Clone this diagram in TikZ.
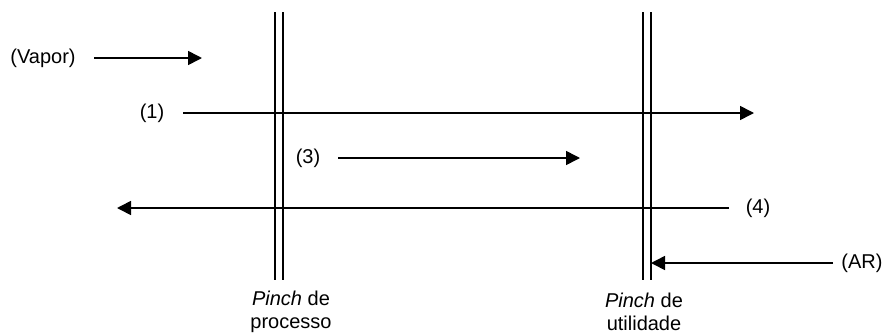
\documentclass[tikz,border=0pt]{standalone}
\usepackage{fontspec}
\setmainfont{Liberation Sans}
\usetikzlibrary{arrows.meta}
\begin{document}
\begin{tikzpicture}[x=1pt,y=-1pt,
  every node/.style={font=\fontsize{20}{23}\selectfont, inner sep=0pt},
  stream/.style={line width=1.6pt, -{Triangle[length=14pt,width=14pt]}},
  pinchline/.style={line width=1.5pt},
  lbl/.style={align=center}]
\useasboundingbox (0,0) rectangle (891,335);

% pinch lines (double vertical lines)
\coordinate (pa1t) at (275,12);  \coordinate (pa1b) at (275,280);
\coordinate (pa2t) at (283,12);  \coordinate (pa2b) at (283,280);
\coordinate (pu1t) at (643,12);  \coordinate (pu1b) at (643,280);
\coordinate (pu2t) at (651,12);  \coordinate (pu2b) at (651,280);
\draw[pinchline] (pa1t) -- (pa1b);
\draw[pinchline] (pa2t) -- (pa2b);
\draw[pinchline] (pu1t) -- (pu1b);
\draw[pinchline] (pu2t) -- (pu2b);

% stream labels
\node (vapor) at (43,58) {(Vapor)};
\node (s1) at (152,113) {(1)};
\node (s3) at (308,158) {(3)};
\node (s4) at (758,208) {(4)};
\node (ar) at (862,263) {(AR)};

% stream arrows
\coordinate (v0) at (94,58);   \coordinate (v1) at (202,58);
\coordinate (a0) at (183,113); \coordinate (a1) at (754,113);
\coordinate (c0) at (338,158); \coordinate (c1) at (580,158);
\coordinate (d0) at (729,208); \coordinate (d1) at (117,208);
\coordinate (r0) at (833,263); \coordinate (r1) at (651,263);
\draw[stream] (v0) -- (v1);
\draw[stream] (a0) -- (a1);
\draw[stream] (c0) -- (c1);
\draw[stream] (d0) -- (d1);
\draw[stream] (r0) -- (r1);

% pinch captions
\node[lbl] (pproc) at (291,312) {\textit{Pinch} de\\processo};
\node[lbl] (putil) at (644,312) {\textit{Pinch} de\\utilidade};
\end{tikzpicture}
\end{document}
